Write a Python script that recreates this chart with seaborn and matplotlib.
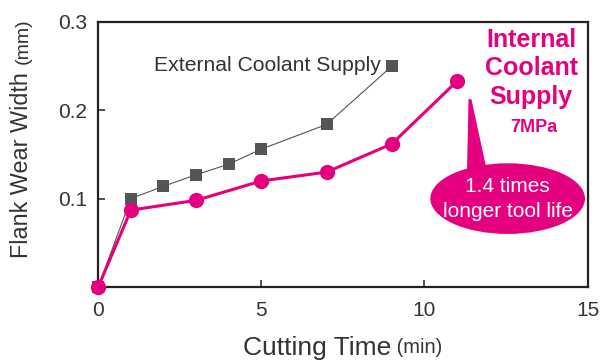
import matplotlib
matplotlib.use("Agg")
import matplotlib.pyplot as plt
import seaborn as sns
import pandas as pd
from matplotlib.patches import Ellipse, Polygon

# Data
ext_time = [0, 1, 2, 3, 4, 5, 7, 9]
ext_wear = [0.0, 0.100, 0.114, 0.127, 0.139, 0.156, 0.184, 0.250]
int_time = [0, 1, 3, 5, 7, 9, 11]
int_wear = [0.0, 0.087, 0.098, 0.120, 0.130, 0.162, 0.233]
x_ticks = [0, 5, 10, 15]
y_ticks = [0.1, 0.2, 0.3]

MAGENTA = "#E4007F"
GRAY = "#555555"
TEXT = "#333333"

sns.set_style("ticks")
plt.rcParams["font.family"] = ["Liberation Sans", "DejaVu Sans"]

fig = plt.figure(figsize=(6.14, 3.60), dpi=100)
ax = fig.add_axes([0.160, 0.203, 0.797, 0.736])

ext_df = pd.DataFrame({"t": ext_time, "w": ext_wear})
int_df = pd.DataFrame({"t": int_time, "w": int_wear})

sns.lineplot(data=ext_df, x="t", y="w", ax=ax, color=GRAY, lw=0.8,
             marker="s", markersize=8, markeredgewidth=0, clip_on=False)
sns.lineplot(data=int_df, x="t", y="w", ax=ax, color=MAGENTA, lw=2.2,
             marker="o", markersize=11, markeredgewidth=0, clip_on=False, zorder=5)

ax.set_xlim(0, 15)
ax.set_ylim(0, 0.3)
ax.set_xticks(x_ticks)
ax.set_xticklabels([str(v) for v in x_ticks])
ax.set_yticks(y_ticks)
ax.set_yticklabels([f"{v:.1f}" for v in y_ticks])
ax.tick_params(direction="in", length=5, width=1.2, labelsize=15, colors=TEXT)
ax.tick_params(axis="x", pad=10)
ax.tick_params(axis="y", pad=8)
for s in ax.spines.values():
    s.set_color("#222222")
    s.set_linewidth(1.6)

xl = ax.set_xlabel("Cutting Time", fontsize=19, color=TEXT)
ax.xaxis.set_label_coords(0.447, -0.185)
yl = ax.set_ylabel("Flank Wear Width", fontsize=16.8, color=TEXT)
ax.yaxis.set_label_coords(-0.133, 0.46)
ax.annotate(" (min)", xy=(1, 0.12), xycoords=xl, fontsize=14.5, color=TEXT,
            ha="left", va="bottom")
ax.annotate("(mm)", xy=(0.18, 1), xycoords=yl, fontsize=14, color=TEXT,
            ha="left", va="bottom", rotation=90, xytext=(0, 6),
            textcoords="offset points")

ax.text(8.65, 0.251, "External Coolant Supply", fontsize=15.2, color=TEXT,
        ha="right", va="center")
ax.text(13.27, 0.2475, "Internal\nCoolant\nSupply", fontsize=18, color=MAGENTA,
        ha="center", va="center", fontweight="bold", linespacing=1.25)
ax.text(13.35, 0.180, "7MPa", fontsize=13, color=MAGENTA, ha="center",
        va="center", fontweight="bold")

ax.add_patch(Ellipse((12.55, 0.100), 4.74, 0.080, color=MAGENTA, zorder=6,
                     lw=0))
ax.add_patch(Polygon([(11.35, 0.2125), (11.44, 0.2125), (11.95, 0.125),
                      (11.30, 0.125)], closed=True, color=MAGENTA, lw=0,
                     zorder=6))
ax.text(12.55, 0.099, "1.4 times\nlonger tool life", fontsize=15, color="white",
        ha="center", va="center", zorder=7, linespacing=1.4)

fig.savefig("out.png", dpi=100)
